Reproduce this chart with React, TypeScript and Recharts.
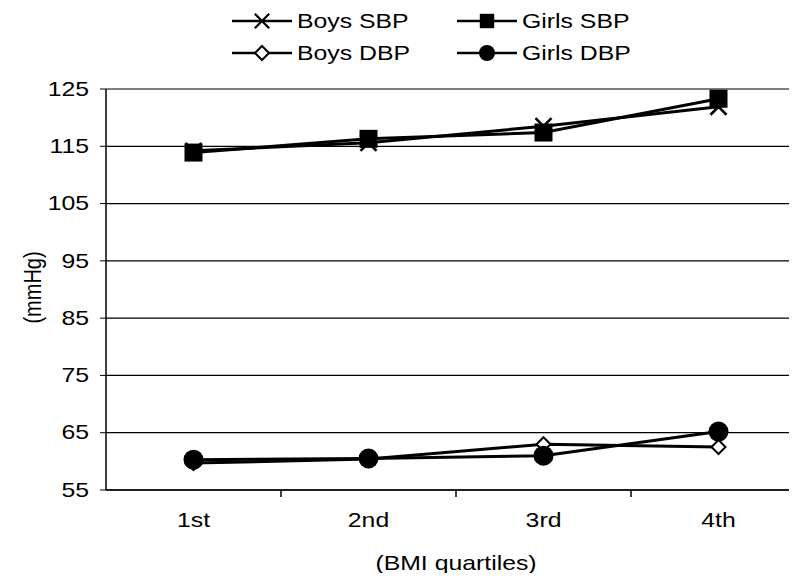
import React from 'react';
import { LineChart, Line, XAxis, YAxis, ReferenceLine, Label } from 'recharts';

const categories = ['1st', '2nd', '3rd', '4th'];
const boysSBP = [114.2, 115.6, 118.5, 121.9];
const girlsSBP = [113.9, 116.3, 117.4, 123.3];
const boysDBP = [59.7, 60.4, 63.0, 62.5];
const girlsDBP = [60.3, 60.5, 61.0, 65.2];
const yTicks = [55, 65, 75, 85, 95, 105, 115, 125];

const seriesNames = ['Boys SBP', 'Girls SBP', 'Boys DBP', 'Girls DBP'];

const data = categories.map((q, i) => ({
  q,
  boysSBP: boysSBP[i],
  girlsSBP: girlsSBP[i],
  boysDBP: boysDBP[i],
  girlsDBP: girlsDBP[i],
}));

const FONT = '"Liberation Sans", Arial, sans-serif';
const STRETCH = 1.24; // the scan's lettering is wider than plain Arial
const X_TICK_MARGIN = 20;

// markers
const Cross = ({ cx, cy }: any) => (
  <path
    d={`M${cx - 8},${cy - 8}L${cx + 8},${cy + 8}M${cx + 8},${cy - 8}L${cx - 8},${cy + 8}`}
    stroke="#000"
    strokeWidth={2.5}
    fill="none"
  />
);
const Square = ({ cx, cy }: any) => (
  <rect x={cx - 9} y={cy - 9} width={18} height={18} fill="#000" />
);
const Diamond = ({ cx, cy }: any) => (
  <path
    d={`M${cx},${cy - 7}L${cx + 7},${cy}L${cx},${cy + 7}L${cx - 7},${cy}Z`}
    fill="#fff"
    stroke="#000"
    strokeWidth={2}
  />
);
const Dot = ({ cx, cy }: any) => <circle cx={cx} cy={cy} r={10} fill="#000" />;

const markers = [Cross, Square, Diamond, Dot];
const markerScale = [0.9, 0.8, 1, 0.8];

const dotFor = (Shape: any) => (props: any) =>
  <Shape key={props.index} cx={props.cx} cy={props.cy} />;

// wide text helper
const WideText = ({ x, y, anchor, children }: any) => (
  <text
    transform={`translate(${x} ${y}) scale(${STRETCH} 1)`}
    textAnchor={anchor}
    dominantBaseline="central"
    fontSize={20}
    fontFamily={FONT}
    fill="#000"
  >
    {children}
  </text>
);

const YTick = ({ x, y, payload }: any) => (
  <WideText x={x} y={y} anchor="end">{payload.value}</WideText>
);

// category label plus the small tick mark on the boundary to its right (Excel style)
const XTick = ({ x, y, payload }: any) => {
  const axisY = y - X_TICK_MARGIN;
  const edge = x + (payload.offset || 0);
  return (
    <g>
      <line x1={edge} y1={axisY} x2={edge} y2={axisY + 7} stroke="#000" strokeWidth={1.5} />
      <WideText x={x} y={y + 10} anchor="middle">{payload.value}</WideText>
    </g>
  );
};

function LegendItem({ idx, left, top }: { idx: number; left: number; top: number }) {
  const Shape = markers[idx];
  return (
    <div style={{ position: 'absolute', left, top, display: 'flex', alignItems: 'center', height: 24 }}>
      <svg width={62} height={24}>
        <line x1={1} y1={12} x2={61} y2={12} stroke="#000" strokeWidth={2.5} />
        <g transform={`translate(31 12) scale(${markerScale[idx]})`}>
          <Shape cx={0} cy={0} />
        </g>
      </svg>
      <span
        style={{
          fontFamily: FONT,
          fontSize: 20,
          marginLeft: 4,
          color: '#000',
          display: 'inline-block',
          transform: `scaleX(${STRETCH})`,
          transformOrigin: 'left center',
        }}
      >
        {seriesNames[idx]}
      </span>
    </div>
  );
}

export default function App() {
  return (
    <div
      style={{
        position: 'relative',
        width: 797,
        height: 581,
        margin: -8,
        overflow: 'hidden',
        background: '#fff',
      }}
    >
      <LegendItem idx={0} left={231} top={9} />
      <LegendItem idx={1} left={456} top={9} />
      <LegendItem idx={2} left={231} top={41} />
      <LegendItem idx={3} left={456} top={41} />

      <LineChart
        width={810}
        height={581}
        data={data}
        margin={{ top: 89, right: 4, bottom: 0, left: 0 }}
        style={{ fontFamily: FONT }}
      >
        <XAxis
          dataKey="q"
          scale="band"
          height={91}
          tickLine={false}
          axisLine={{ stroke: '#000', strokeWidth: 1.5 }}
          tickSize={0}
          tickMargin={X_TICK_MARGIN}
          tick={XTick}
        >
          <Label
            content={({ viewBox }: any) => (
              <WideText x={viewBox.x + viewBox.width / 2} y={viewBox.y + 73} anchor="middle">
                (BMI quartiles)
              </WideText>
            )}
          />
        </XAxis>
        <YAxis
          domain={[55, 125]}
          ticks={yTicks}
          width={106}
          tickSize={6}
          tickMargin={11}
          axisLine={{ stroke: '#000', strokeWidth: 1.5 }}
          tickLine={{ stroke: '#000' }}
          tick={YTick}
        >
          <Label
            content={({ viewBox }: any) => {
              const x = viewBox.x + 33;
              const y = viewBox.y + viewBox.height / 2 - 2;
              return (
                <text
                  transform={`translate(${x} ${y}) rotate(-90) scale(1 ${STRETCH})`}
                  textAnchor="middle"
                  dominantBaseline="central"
                  fontSize={20}
                  fontFamily={FONT}
                  fill="#000"
                >
                  (mmHg)
                </text>
              );
            }}
          />
        </YAxis>
        {yTicks.map((v) => (
          <ReferenceLine key={v} y={v} stroke="#000" strokeWidth={1.2} />
        ))}
        <Line dataKey="boysSBP" stroke="#000" strokeWidth={3} dot={dotFor(Cross)} isAnimationActive={false} />
        <Line dataKey="girlsSBP" stroke="#000" strokeWidth={3} dot={dotFor(Square)} isAnimationActive={false} />
        <Line dataKey="boysDBP" stroke="#000" strokeWidth={3} dot={dotFor(Diamond)} isAnimationActive={false} />
        <Line dataKey="girlsDBP" stroke="#000" strokeWidth={3} dot={dotFor(Dot)} isAnimationActive={false} />
      </LineChart>
    </div>
  );
}
